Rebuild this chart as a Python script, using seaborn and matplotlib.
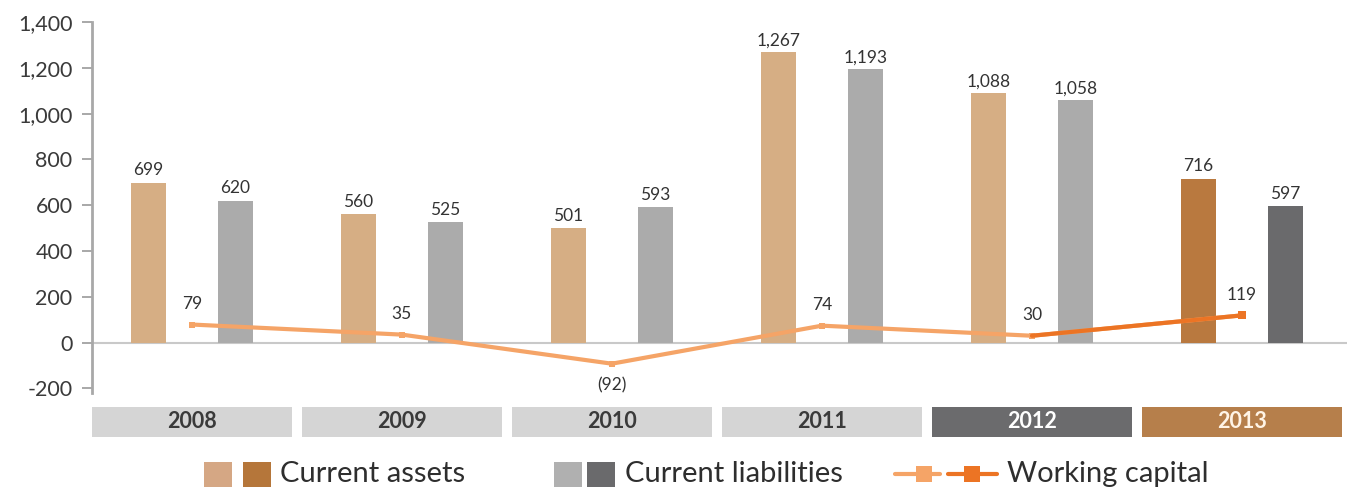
import numpy as np
import pandas as pd
import matplotlib
matplotlib.use("Agg")
import matplotlib.pyplot as plt
from matplotlib.patches import Rectangle
import seaborn as sns

# Working capital data (in millions)
years = ["2008", "2009", "2010", "2011", "2012", "2013"]
current_assets = [699, 560, 501, 1267, 1088, 716]
current_liabilities = [620, 525, 593, 1193, 1058, 597]
working_capital = [79, 35, -92, 74, 30, 119]
y_ticks = [-200, 0, 200, 400, 600, 800, 1000, 1200, 1400]
series_names = ["Current assets", "Current liabilities", "Working capital"]

sns.set_theme(style="white")
plt.rcParams["font.family"] = ["Lato", "DejaVu Sans"]

CA_LIGHT, CA_DARK = "#d6ae84", "#b9793f"
CL_LIGHT, CL_DARK = "#ababab", "#6a6a6c"
WC_LIGHT, WC_DARK = "#f5a467", "#ec7424"
BOX_COLORS = ["#d5d5d5", "#d5d5d5", "#d5d5d5", "#d5d5d5", "#6b6b6d", "#b67f4b"]
BOX_TEXT = ["#3a3a3a", "#3a3a3a", "#3a3a3a", "#3a3a3a", "#ffffff", "#fff4e6"]
LABEL_COLOR = "#333333"

df = pd.DataFrame({
    "year": years * 2,
    "value": current_assets + current_liabilities,
    "series": [series_names[0]] * len(years) + [series_names[1]] * len(years),
})

W, H = 1355, 499
fig = plt.figure(figsize=(W / 100, H / 100), dpi=100)
fig.patch.set_facecolor("white")
ax = fig.add_axes([92 / W, 1 - 393 / H, (1347 - 92) / W, (393 - 22) / H])

sns.barplot(
    data=df, x="year", y="value", hue="series", order=years,
    hue_order=series_names[:2], palette=[CA_LIGHT, CL_LIGHT],
    width=0.83, gap=0.6, saturation=1, errorbar=None, legend=False,
    ax=ax, zorder=2,
)

# Latest year is highlighted with darker shades
last = len(years) - 1
for bar in ax.patches:
    cx = bar.get_x() + bar.get_width() / 2
    idx = int(round(cx))
    is_asset = cx < idx
    if idx == last:
        bar.set_facecolor(CA_DARK if is_asset else CL_DARK)
    bar.set_edgecolor("none")
    ax.annotate(f"{bar.get_height():,.0f}", (cx, bar.get_height()),
                xytext=(0, 3), textcoords="offset points",
                ha="center", va="bottom", fontsize=12.5, color=LABEL_COLOR,
                zorder=5)

# Working capital line: history in light orange, latest step in dark orange
sns.lineplot(x=years[:last + 1], y=working_capital[:last + 1], color=WC_LIGHT,
             lw=3, marker="s", markersize=5, markeredgewidth=0, ax=ax,
             zorder=4, sort=False)
sns.lineplot(x=years[last - 1:], y=working_capital[last - 1:], color=WC_DARK,
             lw=3, marker="s", markersize=6, markeredgewidth=0, ax=ax,
             zorder=4, sort=False)
ax.lines[0].set_markevery(list(range(last)))
ax.lines[1].set_markevery([1])

for i, v in enumerate(working_capital):
    txt = f"{v:,}" if v >= 0 else f"({abs(v)})"
    ax.annotate(txt, (i, v), xytext=(0, 9 if v >= 0 else -10),
                textcoords="offset points", ha="center",
                va="bottom" if v >= 0 else "top", fontsize=12.5,
                color=LABEL_COLOR, zorder=5)

ax.axhline(0, color="#c9c9c9", lw=1.5, zorder=1)

ax.set_ylim(-220, 1400)
ax.set_xlim(-0.475, 5.5)
ax.set_yticks(y_ticks)
ax.set_yticklabels([f"{v:,}" for v in y_ticks])
ax.set_xticks([])
ax.set_xlabel("")
ax.set_ylabel("")
ax.tick_params(axis="y", left=True, length=7, width=1.2, color="#9a9a9a",
               pad=7, labelsize=15.5, labelcolor="#3a3a3a")
for side in ["top", "right", "bottom"]:
    ax.spines[side].set_visible(False)
ax.spines["left"].set_color("#a8a8a8")
ax.spines["left"].set_linewidth(2)

# Year boxes under the axis
xt = ax.get_xaxis_transform()
for i, yr in enumerate(years):
    ax.add_patch(Rectangle((i - 0.476, -0.1186), 0.952, 0.081, transform=xt,
                           facecolor=BOX_COLORS[i], edgecolor="none",
                           clip_on=False))
    ax.text(i, -0.078, yr, transform=xt, ha="center", va="center",
            fontsize=15.5, fontweight="bold", color=BOX_TEXT[i], clip_on=False)

# Legend row
ly = 1 - 474 / H
sq_w, sq_h = 28 / W, 25 / H
for x0, color in [(204, "#d5a784"), (243, "#b5763a"),
                  (554, "#b0b0b0"), (587, "#6a6a6c")]:
    fig.patches.append(Rectangle((x0 / W, ly - sq_h / 2), sq_w, sq_h,
                                 transform=fig.transFigure,
                                 facecolor=color, edgecolor="none"))
for (xa, xb, xm), color in [((895, 940, 924), WC_LIGHT),
                            ((948, 997, 972), WC_DARK)]:
    fig.lines.append(plt.Line2D([xa / W, xb / W], [ly, ly],
                                transform=fig.transFigure, color=color,
                                lw=3))
    fig.lines.append(plt.Line2D([xm / W], [ly], transform=fig.transFigure,
                                color=color, marker="s", markersize=11,
                                markeredgewidth=0, lw=0))
for x0, name in zip([280, 625, 1007], series_names):
    fig.text(x0 / W, ly, name, ha="left", va="center", fontsize=21,
             color="#2e2e2e")

fig.savefig("out.png", dpi=100)
